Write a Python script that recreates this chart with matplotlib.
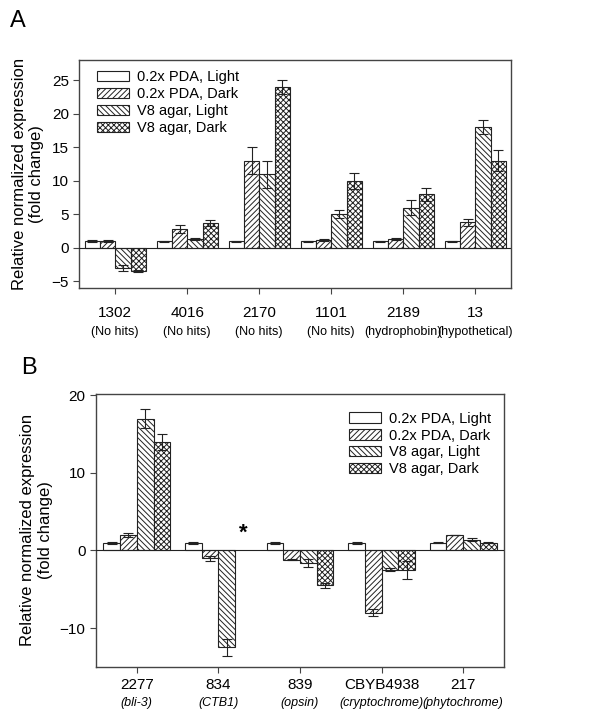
import numpy as np
import matplotlib.pyplot as plt

plt.rcParams['font.family'] = ['Liberation Sans', 'DejaVu Sans']
plt.rcParams['hatch.linewidth'] = 0.7

series = ['0.2x PDA, Light', '0.2x PDA, Dark', 'V8 agar, Light', 'V8 agar, Dark']
hatches = ['', '//////', '\\\\\\\\\\\\', 'xxxxxx']

# panel A
genes_a = ['1302', '4016', '2170', '1101', '2189', '13']
notes_a = ['(No hits)', '(No hits)', '(No hits)', '(No hits)', '(hydrophobin)', '(hypothetical)']
pda_light_a = [1, 1, 1, 1, 1, 1]
pda_dark_a = [1, 2.8, 13, 1.2, 1.3, 3.8]
v8_light_a = [-3, 1.3, 11, 5, 6, 18]
v8_dark_a = [-3.5, 3.7, 24, 10, 8, 13]
pda_light_a_err = [0.15, 0.1, 0.1, 0.05, 0.05, 0.05]
pda_dark_a_err = [0.15, 0.6, 2, 0.2, 0.15, 0.5]
v8_light_a_err = [0.4, 0.15, 2, 0.6, 1.1, 1]
v8_dark_a_err = [0.15, 0.4, 1, 1.2, 1, 1.6]

# panel B
genes_b = ['2277', '834', '839', 'CBYB4938', '217']
notes_b = ['(bli-3)', '(CTB1)', '(opsin)', '(cryptochrome)', '(phytochrome)']
pda_light_b = [1, 1, 1, 1, 1]
pda_dark_b = [2, -1, -1.2, -8, 2]
v8_light_b = [17, -12.5, -1.6, -2.5, 1.4]
v8_dark_b = [14, np.nan, -4.5, -2.5, 1]
pda_light_b_err = [0.1, 0.1, 0.1, 0.1, 0.05]
pda_dark_b_err = [0.25, 0.3, 0.05, 0.4, 0.05]
v8_light_b_err = [1.2, 1.1, 0.5, 0.2, 0.2]
v8_dark_b_err = [1, np.nan, 0.35, 1.2, 0.05]


def draw_panel(ax, genes, notes, vals, errs, width, italic_notes, num_off, note_off):
    x = np.arange(len(genes))
    for i in range(4):
        pos = x + (i - 1.5) * width
        ax.bar(pos, vals[i], width, color='white', edgecolor='#222222', linewidth=0.8,
               hatch=hatches[i], label=series[i], zorder=2)
        ax.errorbar(pos, vals[i], yerr=errs[i], fmt='none', ecolor='#222222',
                    elinewidth=0.8, capsize=3.5, capthick=0.8, zorder=3)
    ax.axhline(0, color='#222222', linewidth=0.8, zorder=4)
    ax.set_xlim(-0.5, len(genes) - 0.5)
    ax.set_xticks(x)
    ax.set_xticklabels([])
    for s in ax.spines.values():
        s.set_color('#444444')
        s.set_linewidth(1.0)
    ax.tick_params(axis='both', direction='out', color='#444444', length=4, labelsize=11)
    tr = ax.get_xaxis_transform()
    for xi, g, n in zip(x, genes, notes):
        ax.annotate(g, (xi, 0), xycoords=tr, xytext=(0, -num_off), textcoords='offset pixels',
                    ha='center', va='center', fontsize=11)
        ax.annotate(n, (xi, 0), xycoords=tr, xytext=(0, -note_off), textcoords='offset pixels',
                    ha='center', va='center', fontsize=9,
                    style='italic' if italic_notes else 'normal')


fig = plt.figure(figsize=(6, 7.24), dpi=100)

ax1 = fig.add_axes([0.132, 0.602, 0.72, 0.315])
draw_panel(ax1, genes_a, notes_a,
           [pda_light_a, pda_dark_a, v8_light_a, v8_dark_a],
           [pda_light_a_err, pda_dark_a_err, v8_light_a_err, v8_dark_a_err],
           0.213, False, 25, 44)
ax1.set_ylim(-6, 28)
ax1.set_yticks([-5, 0, 5, 10, 15, 20, 25])
ax1.set_ylabel('Relative normalized expression\n(fold change)', fontsize=12, labelpad=5)
ax1.legend(loc='upper left', bbox_to_anchor=(0.042, 0.955), frameon=False, fontsize=10.5,
           borderpad=0, borderaxespad=0, handlelength=2.2, handleheight=0.7,
           labelspacing=0.2, handletextpad=0.55)

ax2 = fig.add_axes([0.16, 0.079, 0.68, 0.377])
draw_panel(ax2, genes_b, notes_b,
           [pda_light_b, pda_dark_b, v8_light_b, v8_dark_b],
           [pda_light_b_err, pda_dark_b_err, v8_light_b_err, v8_dark_b_err],
           0.205, True, 18, 36)
ax2.set_ylim(-15, 20.2)
ax2.set_yticks([-10, 0, 10, 20])
ax2.set_ylabel('Relative normalized expression\n(fold change)', fontsize=12, labelpad=5)
ax2.legend(loc='upper left', bbox_to_anchor=(0.62, 0.935), frameon=False, fontsize=10.5,
           borderpad=0, borderaxespad=0, handlelength=2.2, handleheight=0.7,
           labelspacing=0.2, handletextpad=0.55)
# missing value marker for 834, V8 agar dark
ax2.text(1 + 1.5 * 0.205, 2.2, '*', ha='center', va='center', fontsize=16, fontweight='bold')

fig.text(0.03, 0.971, 'A', fontsize=17, ha='center', va='center')
fig.text(0.048, 0.492, 'B', fontsize=17, ha='center', va='center')

fig.savefig('out.png', dpi=100)
